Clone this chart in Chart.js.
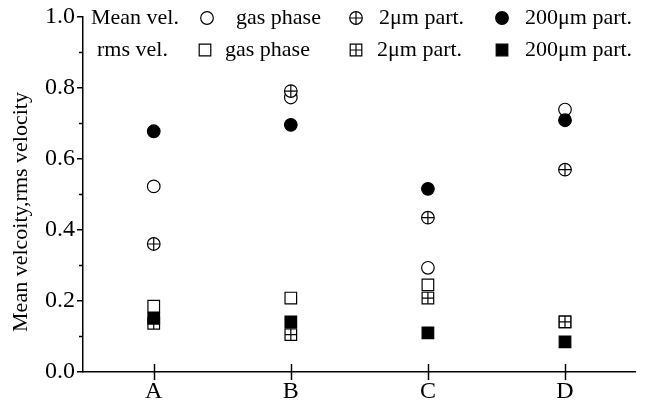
<!DOCTYPE html>
<html>
<head>
<meta charset="utf-8">
<script src="https://cdn.jsdelivr.net/npm/chart.js@4/dist/chart.umd.min.js"></script>
<style>
  html, body { margin: 0; padding: 0; background: #fff; }
  #wrap { width: 645px; height: 406px; }
</style>
</head>
<body>
<div id="wrap"><canvas id="c" width="645" height="406"></canvas></div>
<script>
// Measurement positions along the x axis
const categories = ['A', 'B', 'C', 'D'];

// Mean velocities
const meanGas    = [0.522, 0.772, 0.293, 0.738];
const mean2um    = [0.360, 0.790, 0.434, 0.569];
const mean200um  = [0.677, 0.695, 0.515, 0.708];

// rms velocities
const rmsGas     = [0.185, 0.208, 0.245, 0.141];
const rms2um     = [0.137, 0.105, 0.208, 0.141];
const rms200um   = [0.151, 0.141, 0.110, 0.085];

// Axis ticks and texts
const yMajorTicks = [0.0, 0.2, 0.4, 0.6, 0.8, 1.0];
const yMinorTicks = [0.1, 0.3, 0.5, 0.7, 0.9];
const yAxisTitle  = 'Mean velcoity,rms velocity';
const rowLabels   = ['Mean vel.', 'rms vel.'];
const seriesNames = ['gas phase', '2\u03bcm part.', '200\u03bcm part.'];

const FONT = '"Liberation Serif", "Times New Roman", serif';
const CIRCLE_R = 6.3;
const RECT_R = 8.2;              // Chart.js 'rect' side = r * sqrt(2)
const RECT_HALF = RECT_R * Math.SQRT1_2;
const MARK_W = 1.2;

const pts = arr => arr.map((y, i) => ({ x: i, y }));

function ds(data, style, radius, fill, order) {
  return {
    data: pts(data),
    showLine: false,
    pointStyle: style,
    pointRadius: radius,
    pointHoverRadius: radius,
    pointBackgroundColor: fill,
    pointBorderColor: '#000',
    pointBorderWidth: MARK_W,
    order
  };
}

// later entries sit on top (lower order is drawn last)
const datasets = [
  ds(meanGas,   'circle', CIRCLE_R, '#fff', 20),
  ds(mean2um,   'circle', CIRCLE_R, '#fff', 19),
  ds(mean2um,   'cross',  CIRCLE_R, '#fff', 18),
  ds(mean200um, 'circle', CIRCLE_R, '#000', 17),
  ds(rmsGas,    'rect',   RECT_R,   '#fff', 16),
  ds(rms2um,    'rect',   RECT_R,   '#fff', 15),
  ds(rms2um,    'cross',  RECT_HALF,'#fff', 14),
  ds(rms200um,  'rect',   RECT_R,   '#000', 13)
];

// legend marker shapes
function drawMarker(ctx, kind, x, y) {
  ctx.save();
  ctx.lineWidth = MARK_W;
  ctx.strokeStyle = '#000';
  ctx.beginPath();
  if (kind.startsWith('circle')) {
    ctx.arc(x, y, CIRCLE_R, 0, Math.PI * 2);
  } else {
    ctx.rect(x - RECT_HALF, y - RECT_HALF, RECT_HALF * 2, RECT_HALF * 2);
  }
  ctx.fillStyle = kind.endsWith('Fill') ? '#000' : '#fff';
  ctx.fill();
  ctx.stroke();
  if (kind.endsWith('Plus')) {
    const h = kind.startsWith('circle') ? CIRCLE_R : RECT_HALF;
    ctx.beginPath();
    ctx.moveTo(x - h, y); ctx.lineTo(x + h, y);
    ctx.moveTo(x, y - h); ctx.lineTo(x, y + h);
    ctx.stroke();
  }
  ctx.restore();
}

const decorations = {
  id: 'decorations',
  afterDraw(chart) {
    const ctx = chart.ctx;
    const xs = chart.scales.x, ys = chart.scales.y;
    const area = chart.chartArea;
    ctx.save();
    ctx.strokeStyle = '#000';
    ctx.lineWidth = 1.5;

    // minor y ticks
    ctx.beginPath();
    yMinorTicks.forEach(v => {
      const py = Math.round(ys.getPixelForValue(v)) + 0.5;
      ctx.moveTo(area.left - 4, py);
      ctx.lineTo(area.left, py);
    });
    // x ticks crossing the axis
    categories.forEach((_, i) => {
      const px = Math.round(xs.getPixelForValue(i)) + 0.5;
      ctx.moveTo(px, area.bottom - 8);
      ctx.lineTo(px, area.bottom + 8);
    });
    ctx.stroke();

    // y axis title
    ctx.fillStyle = '#000';
    ctx.font = '22px ' + FONT;
    ctx.textAlign = 'center';
    ctx.textBaseline = 'middle';
    ctx.save();
    ctx.translate(21, 212);
    ctx.rotate(-Math.PI / 2);
    ctx.fillText(yAxisTitle, 0, 0);
    ctx.restore();

    // two-row legend
    ctx.textAlign = 'left';
    const rows = [
      { y: 18, labelX: 91, marks: ['circleOpen', 'circlePlus', 'circleFill'], mx: [207, 356, 502], tx: [236, 379, 525] },
      { y: 50, labelX: 97, marks: ['rectOpen', 'rectPlus', 'rectFill'],       mx: [205, 356, 502], tx: [225, 377, 525] }
    ];
    rows.forEach((r, ri) => {
      ctx.fillText(rowLabels[ri], r.labelX, r.y);
      r.marks.forEach((m, k) => {
        drawMarker(ctx, m, r.mx[k], r.y);
        ctx.fillStyle = '#000';
        ctx.fillText(seriesNames[k], r.tx[k], r.y);
      });
    });
    ctx.restore();
  }
};

new Chart(document.getElementById('c'), {
  type: 'scatter',
  data: { datasets },
  options: {
    responsive: false,
    animation: false,
    events: [],
    layout: { padding: { left: 0, right: 7, top: 16, bottom: 0 } },
    plugins: { legend: { display: false }, tooltip: { enabled: false } },
    scales: {
      x: {
        type: 'linear',
        min: -0.516,
        max: 3.515,
        afterBuildTicks: s => { s.ticks = categories.map((_, i) => ({ value: i })); },
        afterFit: s => { s.height = 34; },
        grid: { display: false, drawTicks: false },
        border: { display: true, color: '#000', width: 1.5 },
        ticks: {
          color: '#000',
          font: { family: FONT, size: 24 },
          padding: 5,
          autoSkip: false,
          maxRotation: 0,
          callback: v => categories[v] ?? ''
        }
      },
      y: {
        min: 0,
        max: 1,
        afterBuildTicks: s => { s.ticks = yMajorTicks.map(v => ({ value: v })); },
        afterFit: s => { s.width = 83; },
        grid: { drawOnChartArea: false, color: '#000', lineWidth: 1.5, tickLength: 6 },
        border: { display: true, color: '#000', width: 1.5 },
        ticks: {
          color: '#000',
          font: { family: FONT, size: 24 },
          padding: 2,
          callback: v => Number(v).toFixed(1)
        }
      }
    }
  },
  plugins: [decorations]
});
</script>
</body>
</html>
